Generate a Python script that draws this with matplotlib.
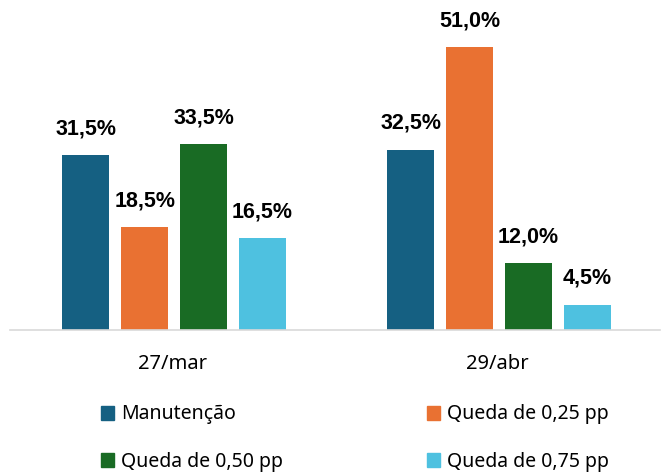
import matplotlib.pyplot as plt
import numpy as np
from matplotlib.patches import Patch

# dados
categorias = ['27/mar', '29/abr']
series = ['Manutenção', 'Queda de 0,25 pp', 'Queda de 0,50 pp', 'Queda de 0,75 pp']
valores = [
    [31.5, 32.5],
    [18.5, 51.0],
    [33.5, 12.0],
    [16.5, 4.5],
]
cores = ['#156082', '#E97132', '#196B24', '#4EC1E0']

plt.rcParams['font.family'] = ['Noto Sans', 'DejaVu Sans']

fig = plt.figure(figsize=(6.66, 4.72), dpi=100)
ax = fig.add_axes([10/666, 142/472, 650/666, 320/472])

x = np.arange(len(categorias))
largura = 0.145
passo = 0.1815
for i, (nome, vals) in enumerate(zip(series, valores)):
    pos = x + (i - 1.5) * passo + 0.005
    barras = ax.bar(pos, vals, width=largura, color=cores[i], label=nome)
    for b, v in zip(barras, vals):
        ax.text(b.get_x() + b.get_width()/2, v + 2.9, f'{v:.1f}%'.replace('.', ','),
                ha='center', va='bottom', fontsize=15.5, fontweight='bold',
                family='Liberation Sans')

ax.set_xlim(-0.5, 1.5)
ax.set_ylim(0, 57.7)
ax.set_yticks([])
ax.set_xticks(x)
ax.set_xticklabels(categorias, fontsize=14.5)
ax.tick_params(axis='x', length=0, pad=17)
for s in ['top', 'right', 'left']:
    ax.spines[s].set_visible(False)
ax.spines['bottom'].set_color('#d9d9d9')
ax.spines['bottom'].set_linewidth(1.2)

# ordem por linha (matplotlib preenche por coluna)
ordem = [0, 2, 1, 3]
handles = [Patch(color=cores[k]) for k in ordem]
fig.legend(handles, [series[k] for k in ordem], loc='upper left',
           bbox_to_anchor=(83/666, 1 - 387/472),
           ncol=2, frameon=False, fontsize=14, handlelength=0.7, handleheight=0.7,
           handletextpad=0.35, columnspacing=7.4, labelspacing=1.4)

fig.savefig('out.png', dpi=100)
